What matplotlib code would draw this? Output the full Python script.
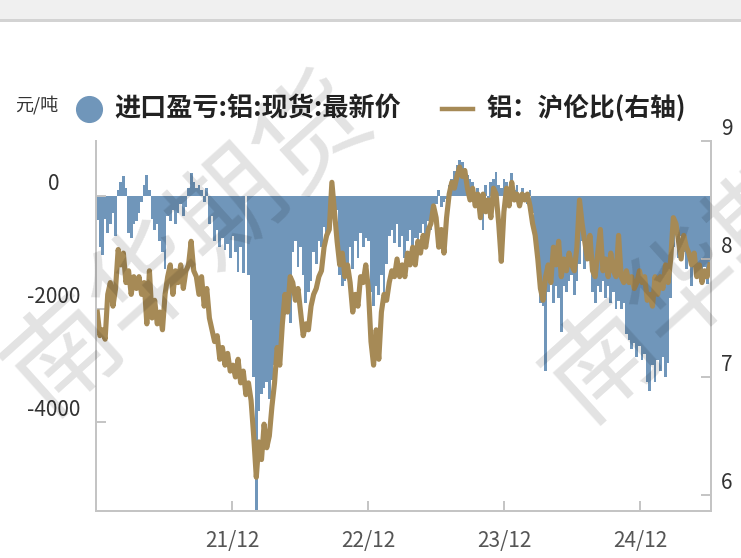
import numpy as np
import pandas as pd
import matplotlib
matplotlib.use("Agg")
import matplotlib.pyplot as plt
from matplotlib import transforms
from matplotlib.lines import Line2D
from matplotlib.patches import Rectangle

plt.rcParams["font.family"] = ["Noto Sans CJK SC", "DejaVu Sans"]

BLUE = "#7096ba"
GOLD = "#a68a56"
GRID_GREY = "#c4c4c4"

# weekly samples
START = "2020-12-04"
PROFIT = [  # 进口盈亏 (元/吨)
    -420, -900, -1050, -400, -650, -500, -300, -700, 100, 250,
    350, 150, -650, -750, -500, -450, -300, -100, 200, 370,
    100, -400, -600, -500, -800, -1000, -1300, -350, -450, -250,
    -500, -300, -150, -350, -200, 150, 400, 250, 150, 200,
    100, -100, 150, -500, -350, -800, -600, -900, -750, -950,
    -850, -1100, -700, -1000, -1350, -900, -1360, np.nan, -1400, -2200,
    -3200, -5550, -3800, -3500, -3400, -3300, -3600, -3250, -3000, -2900,
    -2700, -2300, -2100, -1950, -2250, -1000, -800, -1250, -900, -1400,
    -1900, -1700, -1500, -1000, -1200, -800, -900, -550, -700, -450,
    -300, -370, -250, -1400, -1600, -1500, -1200, -900, -1300, -800,
    -1100, -650, -900, -750, -800, -1700, -1950, -1600, -1750, -1400,
    -1800, -1200, -700, -600, -830, -500, -900, -700, -1100, -800,
    -600, -1000, -750, -1050, -650, -500, -700, -450, -600, -350,
    -150, 100, -200, -100, -50, 200, 300, 450, 550, 640,
    600, 500, 380, 300, 250, -200, 150, -350, -600, 200,
    -100, 250, 300, 420, 200, 150, 300, 250, 150, 400,
    100, 200, -100, 150, 50, -150, 100, -300, -700, -1000,
    -1900, -1950, -3100, -1700, -1500, -1900, -1600, -1800, -2400, -1600,
    -1700, -1500, -1400, -1750, -1500, -1200, -800, -1300, -900, -1100,
    -1700, -1900, -1600, -1700, -1500, -1800, -1600, -1900, -1700, -2000,
    -1850, -2000, -1900, -2450, -2550, -2700, -2600, -2850, -2650, -2900,
    -2800, -3300, -3450, -3000, -3300, -2900, -3100, -2850, -3200, -2950,
    -1800, -900, -600, -1100, -700, -1000, -1300, -1100, -1600, -1200,
    -1450, -1300, -1500, -1250, -1550, -1350,
]
RATIO = [  # 铝 沪伦比
    7.55, 7.35, 7.4, 7.32, 7.7, 7.8, 7.6, 7.75, 8.08, 7.95,
    8.05, 7.8, 7.9, 7.7, 7.85, 7.75, 7.85, 7.7, 7.8, 7.45,
    7.9, 7.5, 7.65, 7.45, 7.55, 7.4, 7.7, 7.85, 7.95, 7.7,
    7.9, 7.8, 7.95, 7.75, 7.9, 7.95, 8.15, 7.9, 7.85, 7.7,
    7.85, 7.6, 7.75, 7.5, 7.4, 7.3, 7.35, 7.15, 7.25, 7.1,
    7.2, 7.05, 7.1, 7.0, 7.15, 6.95, 7.05, 6.85, 6.95, 6.8,
    6.5, 6.15, 6.45, 6.3, 6.6, 6.4, 6.5, 6.75, 6.95, 7.25,
    7.1, 7.45, 7.7, 7.55, 7.85, 7.8, 7.65, 7.75, 7.55, 7.35,
    7.45, 7.4, 7.6, 7.7, 7.75, 7.85, 7.9, 8.1, 8.2, 8.25,
    8.65, 8.4, 8.15, 7.95, 8.05, 7.85, 7.95, 7.8, 7.55, 7.7,
    7.6, 7.85, 7.8, 7.95, 7.75, 7.3, 7.1, 7.4, 7.15, 7.55,
    7.7, 7.65, 7.8, 7.9, 7.85, 8.0, 7.85, 7.95, 7.85, 8.05,
    7.95, 8.1, 7.95, 8.15, 8.05, 8.2, 8.1, 8.25, 8.3, 8.45,
    8.35, 8.1, 8.25, 8.05, 8.35, 8.55, 8.65, 8.6, 8.7, 8.78,
    8.7, 8.75, 8.6, 8.5, 8.6, 8.45, 8.55, 8.35, 8.55, 8.4,
    8.5, 8.35, 8.6, 8.55, 8.3, 7.98, 8.4, 8.6, 8.45, 8.65,
    8.5, 8.55, 8.45, 8.55, 8.5, 8.55, 8.45, 8.3, 8.2, 8.0,
    7.75, 7.65, 7.85, 7.95, 7.8, 8.1, 7.95, 8.15, 7.85, 8.0,
    7.9, 8.05, 7.95, 7.9, 8.1, 8.5, 8.3, 8.15, 8.0, 8.2,
    7.9, 7.85, 8.05, 8.25, 7.9, 8.0, 7.85, 8.05, 7.9, 7.85,
    8.2, 7.85, 7.8, 7.9, 7.8, 7.85, 7.75, 7.8, 7.9, 7.8,
    7.85, 7.65, 7.7, 7.6, 7.85, 7.7, 7.85, 7.75, 7.95, 7.8,
    8.0, 8.35, 8.3, 8.15, 8.0, 8.2, 8.1, 8.05, 7.95, 8.05,
    7.85, 7.95, 7.8, 7.9, 7.85, 7.95,
]
XTICKS = ["2021-12-01", "2022-12-01", "2023-12-01", "2024-12-01"]
XTICK_LABELS = ["21/12", "22/12", "23/12", "24/12"]
LEFT_TICKS = [0, -2000, -4000]
RIGHT_TICKS = [6, 7, 8, 9]

dates = pd.date_range(START, periods=len(PROFIT), freq="7D")

W, H = 741, 558
fig = plt.figure(figsize=(W / 100, H / 100), dpi=100)
fig.patch.set_facecolor("white")

# grey band at the top of the card
fig.add_artist(Rectangle((0, 1 - 19 / H), 1, 19 / H, transform=fig.transFigure,
                         facecolor="#f0f0f0", edgecolor="none"))
fig.add_artist(Rectangle((0, 1 - 22 / H), 1, 3 / H, transform=fig.transFigure,
                         facecolor="#d3d3d3", edgecolor="none"))

ax = fig.add_axes([96 / W, (H - 511) / H, 615 / W, 370 / H])
ax2 = ax.twinx()

ax.bar(dates, PROFIT, width=7.4, color=BLUE, linewidth=0, antialiased=False)
ax2.plot(dates, RATIO, color=GOLD, lw=3.7, solid_joinstyle="round")

x0 = pd.Timestamp(START) - pd.Timedelta(days=3.5)
ax.set_xlim(x0, x0 + pd.Timedelta(days=615 / 136 * 365.25))
ax.set_ylim(-5575, 973)
ax2.set_ylim(5.864, 9.0)

for a in (ax, ax2):
    for s in a.spines.values():
        s.set_color(GRID_GREY)
        s.set_linewidth(1.4)
    a.spines["top"].set_visible(False)
    a.tick_params(direction="in", length=7, width=1.4, color=GRID_GREY)

ax.set_xticks(pd.to_datetime(XTICKS))
ax.set_xticklabels(XTICK_LABELS)
ax.tick_params(axis="x", pad=14, labelsize=15, labelcolor="#555555")

ax.set_yticks(LEFT_TICKS)
ax.set_yticklabels([])
ax2.set_yticks(RIGHT_TICKS)
ax2.set_yticklabels([])

# tick labels sit a little above their ticks
up = transforms.ScaledTranslation(0, 12 / 100, fig.dpi_scale_trans)
tl = transforms.blended_transform_factory(fig.transFigure, ax.transData) + up
for v in LEFT_TICKS:
    ax.text(54 / W, v, f"{v}", transform=tl, ha="center", va="center",
            fontsize=15, color="#333333")
tr = transforms.blended_transform_factory(fig.transFigure, ax2.transData) + up
for v in RIGHT_TICKS:
    ax2.text(721 / W, v, f"{v}", transform=tr, ha="left", va="center",
             fontsize=15, color="#333333")

# legend row
ly = 1 - 109 / H
fig.text(15 / W, 1 - 105 / H, "元/吨", fontsize=13, color="#333333",
         ha="left", va="center")
fig.add_artist(Line2D([89 / W], [ly], transform=fig.transFigure, marker="o",
                      markersize=18.5, color=BLUE, linestyle="none"))
fig.text(114 / W, ly, "进口盈亏:铝:现货:最新价", fontsize=18.8, color="#222222",
         ha="left", va="center", fontweight="bold")
fig.add_artist(Line2D([442 / W, 473 / W], [ly, ly], transform=fig.transFigure,
                      color=GOLD, lw=3.2))
fig.text(487 / W, ly, "铝：沪伦比(右轴)", fontsize=18.5, color="#222222",
         ha="left", va="center", fontweight="bold")

# watermark (the right copy runs off the edge, as in the source)
for cx, cy in [(190, 245), (728, 252)]:
    fig.text(cx / W, 1 - cy / H, "南华期货", fontsize=80, color="black",
             alpha=0.115, rotation=42, ha="center", va="center",
             fontweight="medium", zorder=10, rotation_mode="anchor")

fig.savefig("out.png", dpi=100)
